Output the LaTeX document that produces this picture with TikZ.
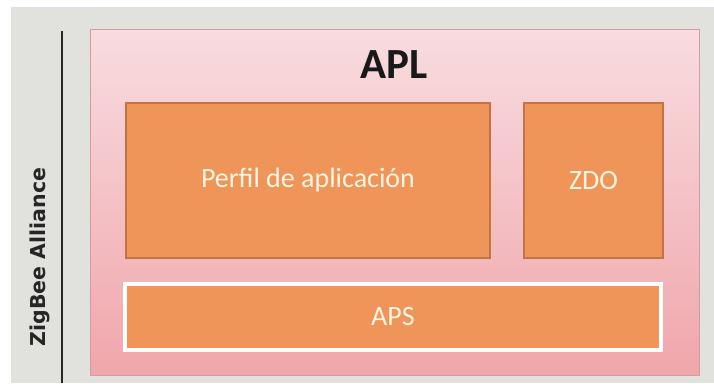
\documentclass[tikz,border=0pt]{standalone}
\usepackage{fontspec}
\setmainfont{Carlito}
\newfontfamily\sidefont{DejaVu Sans}
\definecolor{canvas}{HTML}{E1E2DE}
\definecolor{pinktop}{HTML}{F8DCE0}
\definecolor{pinkbot}{HTML}{F0A6AB}
\definecolor{pinkedge}{HTML}{D59CA0}
\definecolor{orangefill}{HTML}{EF955A}
\definecolor{orangeedge}{HTML}{C27446}
\definecolor{labeltext}{HTML}{FFF5E2}
\begin{document}
\begin{tikzpicture}[x=1pt,y=-1pt,
  block/.style={draw=orangeedge, line width=1.5pt, fill=orangefill,
    inner sep=0pt, outer sep=0pt, text=labeltext,
    font=\fontsize{28}{30}\selectfont},
  layer/.style={draw=pinkedge, line width=0.8pt, top color=pinktop,
    bottom color=pinkbot, inner sep=0pt, outer sep=0pt}]
  % page and backdrop
  \fill[white] (0,0) rectangle (714,383);
  \fill[canvas] (11,7) rectangle (714,383);
  \useasboundingbox (0,0) rectangle (714,383);

  % side label with its rule
  \draw[black!85, line width=2.5pt] (62,31) -- (62,383);
  \node[rotate=90, font=\sidefont\bfseries\fontsize{20.5}{22}\selectfont,
    text=black!85] (alliance) at (40,257) {ZigBee Alliance};

  % application layer frame
  \node[layer, minimum width=609pt, minimum height=346pt] (apl) at (394.5,202) {};
  \node[font=\bfseries\fontsize{43}{45}\selectfont, text=black!90] (apltitle) at (394,65) {APL};

  % inner blocks
  \node[block, minimum width=364pt, minimum height=155pt] (perfil) at (308,180.5) {Perfil de aplicación};
  \node[block, minimum width=139pt, minimum height=155pt] (zdo) at (593.5,180.5) {ZDO};
  \node[block, draw=white, line width=4pt, minimum width=536pt, minimum height=66pt] (aps) at (393,317) {APS};
\end{tikzpicture}
\end{document}
